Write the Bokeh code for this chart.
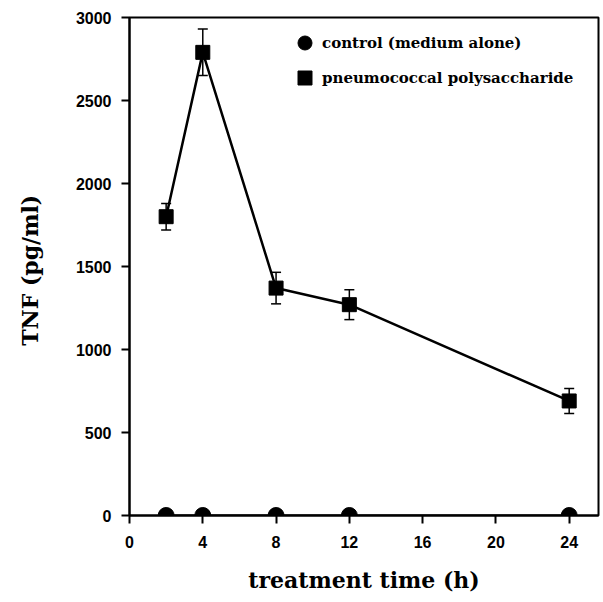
from bokeh.plotting import figure
from bokeh.models import ColumnDataSource, Whisker, TeeHead, Legend, LegendItem, FixedTicker, Range1d
from bokeh.embed import file_html
from bokeh.resources import INLINE

hours = [2, 4, 8, 12, 24]
control = [0, 0, 0, 0, 0]
pps = [1800, 2790, 1370, 1270, 690]
pps_err = [80, 140, 95, 90, 75]
x_ticks = [0, 4, 8, 12, 16, 20, 24]
y_ticks = [0, 500, 1000, 1500, 2000, 2500, 3000]

src = ColumnDataSource(dict(
    x=hours, y=pps,
    lo=[v - e for v, e in zip(pps, pps_err)],
    hi=[v + e for v, e in zip(pps, pps_err)],
))
csrc = ColumnDataSource(dict(x=hours, y=control))

p = figure(width=600, height=598, output_backend="svg", toolbar_location=None,
           x_range=Range1d(0, 25.6), y_range=Range1d(0, 3000),
           min_border_left=129, min_border_top=17, min_border_right=2, min_border_bottom=83)
p.xgrid.visible = False
p.ygrid.visible = False
p.outline_line_color = "black"
p.outline_line_width = 2

p.xaxis.ticker = FixedTicker(ticks=x_ticks)
p.yaxis.ticker = FixedTicker(ticks=y_ticks)
for ax in (p.xaxis[0], p.yaxis[0]):
    ax.axis_line_width = 2
    ax.major_tick_line_width = 2
    ax.major_tick_in = 0
    ax.major_tick_out = 8
    ax.minor_tick_line_color = None
    ax.major_label_text_font = "Liberation Sans"
    ax.major_label_text_font_style = "bold"
    ax.major_label_text_font_size = "16px"
    ax.major_label_text_color = "black"
    ax.axis_label_text_font = "DejaVu Serif"
    ax.axis_label_text_font_style = "bold"
    ax.axis_label_text_font_size = "22px"
    ax.axis_label_text_color = "black"
p.xaxis.axis_label = "treatment time (h)"
p.yaxis.axis_label = "TNF  (pg/ml)"
p.xaxis.major_label_standoff = 12
p.xaxis.axis_label_standoff = 16
p.yaxis.major_label_standoff = 10
p.yaxis.axis_label_standoff = 30

p.line("x", "y", source=csrc, line_color="black", line_width=2)
r_c = p.scatter("x", "y", source=csrc, marker="circle", size=16, fill_color="black", line_color="black")

p.add_layout(Whisker(source=src, base="x", lower="lo", upper="hi", line_width=1.5,
                     upper_head=TeeHead(size=10, line_width=1.5),
                     lower_head=TeeHead(size=10, line_width=1.5)))
p.line("x", "y", source=src, line_color="black", line_width=2.5)
r_p = p.scatter("x", "y", source=src, marker="square", size=14, fill_color="black", line_color="black")

legend = Legend(items=[LegendItem(label="control (medium alone)", renderers=[r_c]),
                       LegendItem(label="pneumococcal polysaccharide", renderers=[r_p])],
                location=(158, 420), padding=0, margin=0, spacing=-10,
                glyph_width=35, glyph_height=35, label_standoff=0,
                border_line_color=None, background_fill_alpha=0,
                label_text_font="DejaVu Serif", label_text_font_style="bold",
                label_text_font_size="15px", label_text_color="black")
p.add_layout(legend)

open("out.html", "w").write(file_html(p, INLINE))
